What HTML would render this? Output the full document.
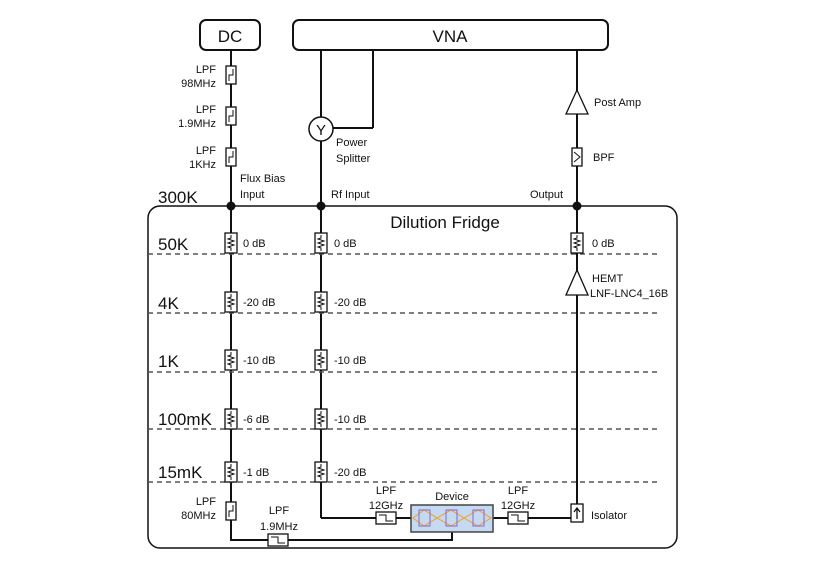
<!DOCTYPE html>
<html><head><style>body{margin:0;background:#fff}svg{display:block}text{font-family:"Liberation Sans",sans-serif;fill:#111}</style></head>
<body>
<svg width="830" height="567" viewBox="0 0 830 567" xmlns="http://www.w3.org/2000/svg">
<defs>
<g id="att"><rect x="-6" y="-10" width="12" height="20" fill="#fff" stroke="#111" stroke-width="1.3"/><path d="M0,-8 V-5 L-3,-4 L3,-2 L-3,0 L3,2 L-3,4 L0,5 V8" fill="none" stroke="#111" stroke-width="1"/></g>
<g id="lpfv"><rect x="-5" y="-9" width="10" height="18" fill="#fff" stroke="#111" stroke-width="1.3"/><path d="M-2,6 V0 H2 V-6" fill="none" stroke="#111" stroke-width="1"/></g>
<g id="lpfh"><rect x="-10" y="-6" width="20" height="12" fill="#fff" stroke="#111" stroke-width="1.3"/><path d="M-7,-3 H0 V3 H7" fill="none" stroke="#111" stroke-width="1"/></g>
</defs>
<g stroke="#111" stroke-width="2" fill="none">
<rect x="200" y="20" width="60" height="30" rx="6" fill="#fff"/>
<rect x="293" y="20" width="315" height="30" rx="6" fill="#fff"/>
<path d="M160,206 H665 A12,12 0 0 1 677,218 V536 A12,12 0 0 1 665,548 H160 A12,12 0 0 1 148,536 V218 A12,12 0 0 1 160,206 Z" stroke-width="1.5"/>
<line x1="231" y1="50" x2="231" y2="511"/>
<line x1="321" y1="50" x2="321" y2="518"/>
<line x1="373" y1="50" x2="373" y2="128"/>
<line x1="373" y1="128" x2="333" y2="128"/>
<line x1="577" y1="50" x2="577" y2="518"/>
<path d="M321,518 H411"/>
<path d="M493,518 H577"/>
<path d="M231,511 V540 H452 V532"/>
</g>
<g stroke="#555" stroke-width="1.5" stroke-dasharray="5,4">
<line x1="148" y1="254" x2="660" y2="254"/><line x1="148" y1="313" x2="660" y2="313"/><line x1="148" y1="372" x2="660" y2="372"/><line x1="148" y1="429" x2="660" y2="429"/><line x1="148" y1="482" x2="660" y2="482"/>
</g>
<circle cx="321" cy="129" r="12" fill="#fff" stroke="#111" stroke-width="1.5"/>
<text x="321" y="135" font-size="15" text-anchor="middle">Y</text>
<g fill="#111"><circle cx="231" cy="206" r="4.5"/><circle cx="321" cy="206" r="4.5"/><circle cx="577" cy="206" r="4.5"/></g>
<use href="#lpfv" x="231" y="75"/><use href="#lpfv" x="231" y="116"/><use href="#lpfv" x="231" y="157"/><use href="#lpfv" x="231" y="511"/>
<g><use href="#att" x="231" y="243"/><use href="#att" x="231" y="302"/><use href="#att" x="231" y="360"/><use href="#att" x="231" y="419"/><use href="#att" x="231" y="472"/>
<use href="#att" x="321" y="243"/><use href="#att" x="321" y="302"/><use href="#att" x="321" y="360"/><use href="#att" x="321" y="419"/><use href="#att" x="321" y="472"/>
<use href="#att" x="577" y="243"/></g>
<use href="#lpfh" x="386" y="518"/><use href="#lpfh" x="518" y="518"/><use href="#lpfh" x="278" y="540"/>
<polygon points="577,90 566,114 588,114" fill="#fff" stroke="#111" stroke-width="1.3"/>
<polygon points="577,270 566,295 588,295" fill="#fff" stroke="#111" stroke-width="1.3"/>
<rect x="572" y="148" width="10" height="18" fill="#fff" stroke="#111" stroke-width="1.3"/>
<path d="M574,152 L580,157 L574,162" fill="none" stroke="#111"/>
<rect x="571" y="504" width="12" height="18" fill="#fff" stroke="#111" stroke-width="1.3"/>
<path d="M577,519 V509 M574,512 L577,508 L580,512" fill="none" stroke="#111" stroke-width="1.3"/>
<rect x="411" y="505" width="82" height="27" fill="#c5d9f1" stroke="#444" stroke-width="1.5"/>
<g stroke="#f0a020" stroke-width="1" fill="none"><path d="M413,518 L424,510 L437,518 L424,526 Z M437,518 L451,510 L464,518 L451,526 Z M464,518 L478,510 L491,518 L478,526 Z"/></g>
<g stroke="#8866cc" stroke-width="1" fill="none"><rect x="419" y="510" width="11" height="16"/><rect x="446" y="510" width="11" height="16"/><rect x="473" y="510" width="11" height="16"/></g>
<g font-size="17" text-anchor="middle"><text x="230" y="42">DC</text><text x="450" y="42">VNA</text><text x="445" y="228">Dilution Fridge</text></g>
<g font-size="17"><text x="158" y="203">300K</text><text x="158" y="250">50K</text><text x="158" y="309">4K</text><text x="158" y="367">1K</text><text x="158" y="425">100mK</text><text x="158" y="478">15mK</text></g>
<g font-size="11" text-anchor="end"><text x="216" y="73">LPF</text><text x="216" y="87">98MHz</text><text x="216" y="113">LPF</text><text x="216" y="127">1.9MHz</text><text x="216" y="154">LPF</text><text x="216" y="168">1KHz</text><text x="216" y="505">LPF</text><text x="216" y="519">80MHz</text></g>
<g font-size="11"><text x="240" y="182">Flux Bias</text><text x="240" y="198">Input</text><text x="336" y="146">Power</text><text x="336" y="162">Splitter</text><text x="331" y="198">Rf Input</text><text x="530" y="198">Output</text><text x="594" y="106">Post Amp</text><text x="593" y="161">BPF</text><text x="592" y="282">HEMT</text><text x="590" y="297">LNF-LNC4_16B</text><text x="591" y="519">Isolator</text>
<text x="243" y="247">0 dB</text><text x="243" y="306">-20 dB</text><text x="243" y="364">-10 dB</text><text x="243" y="423">-6 dB</text><text x="243" y="476">-1 dB</text>
<text x="334" y="247">0 dB</text><text x="334" y="306">-20 dB</text><text x="334" y="364">-10 dB</text><text x="334" y="423">-10 dB</text><text x="334" y="476">-20 dB</text><text x="592" y="247">0 dB</text></g>
<g font-size="11" text-anchor="middle"><text x="386" y="494">LPF</text><text x="386" y="509">12GHz</text><text x="452" y="500">Device</text><text x="518" y="494">LPF</text><text x="518" y="509">12GHz</text><text x="279" y="514">LPF</text><text x="279" y="530">1.9MHz</text></g>
</svg>
</body></html>
